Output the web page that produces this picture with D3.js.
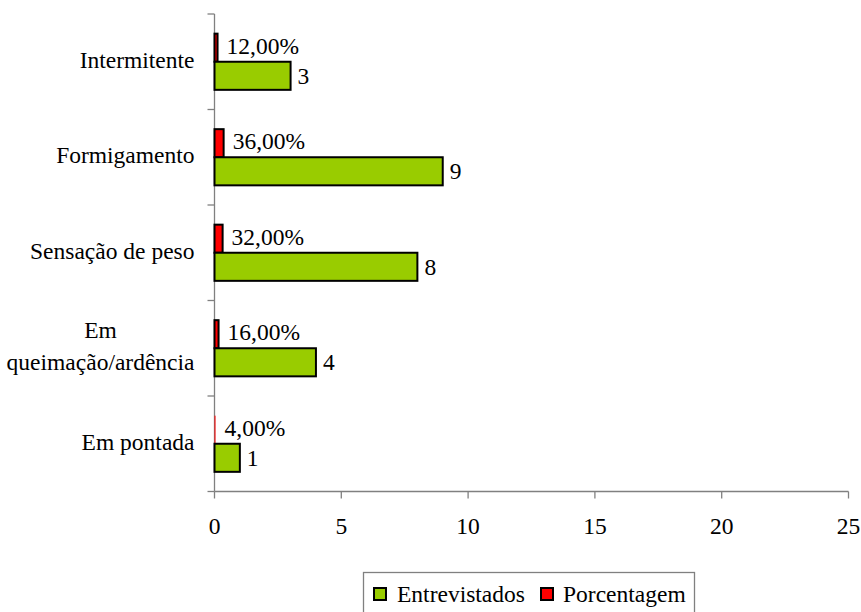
<!DOCTYPE html>
<html>
<head>
<meta charset="utf-8">
<script src="https://cdn.jsdelivr.net/npm/d3@7"></script>
<style>
  html, body { margin: 0; padding: 0; background: #fff; }
</style>
</head>
<body>
<svg id="chart" width="861" height="612" font-family="'Liberation Serif', 'DejaVu Serif', serif"></svg>
<script>
// Sintomas relatados (de cima para baixo)
const categories = ["Intermitente", "Formigamento", "Sensação de peso", "Em queimação/ardência", "Em pontada"];
const categoryLines = [["Intermitente"], ["Formigamento"], ["Sensação de peso"], ["Em", "queimação/ardência"], ["Em pontada"]];
const entrevistados = [3, 9, 8, 4, 1];
const porcentagem = [0.12, 0.36, 0.32, 0.16, 0.04];
const porcentagemLabels = ["12,00%", "36,00%", "32,00%", "16,00%", "4,00%"];
const xTicks = [0, 5, 10, 15, 20, 25];
const seriesNames = ["Entrevistados", "Porcentagem"];
const seriesColors = ["#99CC00", "#FF0000"];

const svg = d3.select("#chart");
const fontSize = 23.5;

const plot = { left: 214.5, right: 848.5, top: 14, bottom: 491.5 };

const x = d3.scaleLinear().domain([0, 25]).range([plot.left, plot.right]);
const y = d3.scaleBand().domain(categories).range([plot.top, plot.bottom]).padding(0);
// Two bars per category: Porcentagem above, Entrevistados below
const sub = d3.scaleBand().domain(["Porcentagem", "Entrevistados"])
  .range([0, y.bandwidth()]).paddingInner(0).paddingOuter(0.7);

const data = categories.map((c, i) => ({
  cat: c, lines: categoryLines[i], ent: entrevistados[i], pct: porcentagem[i], pctLabel: porcentagemLabels[i]
}));

// Axes
const axisColor = "#808080";
svg.append("line").attr("x1", plot.left).attr("x2", plot.left)
  .attr("y1", plot.top).attr("y2", plot.bottom).attr("stroke", axisColor).attr("stroke-width", 1.3);
svg.append("line").attr("x1", plot.left).attr("x2", plot.right)
  .attr("y1", plot.bottom).attr("y2", plot.bottom).attr("stroke", axisColor).attr("stroke-width", 1.3);

// Category boundary ticks on y axis
const bounds = categories.map(c => y(c)).concat([plot.bottom]);
svg.selectAll(".ytick").data(bounds).enter().append("line")
  .attr("x1", plot.left - 7).attr("x2", plot.left)
  .attr("y1", d => d).attr("y2", d => d)
  .attr("stroke", axisColor).attr("stroke-width", 1.3);

// x ticks and labels
svg.selectAll(".xtick").data(xTicks).enter().append("line")
  .attr("x1", d => x(d)).attr("x2", d => x(d))
  .attr("y1", plot.bottom).attr("y2", plot.bottom + 7)
  .attr("stroke", axisColor).attr("stroke-width", 1.3);
svg.selectAll(".xlabel").data(xTicks).enter().append("text")
  .attr("x", d => x(d)).attr("y", plot.bottom + 42)
  .attr("text-anchor", "middle").attr("font-size", fontSize)
  .text(d => d);

// Category labels
const catG = svg.selectAll(".cat").data(data).enter().append("text")
  .attr("text-anchor", "middle").attr("font-size", fontSize);
const lineH = 32;
catG.each(function (d) {
  const t = d3.select(this);
  const cy = y(d.cat) + y.bandwidth() / 2;
  const n = d.lines.length;
  // measure widest line so the block is right-aligned at a fixed x
  const tmp = svg.append("text").attr("font-size", fontSize);
  let w = 0;
  d.lines.forEach(l => { tmp.text(l); w = Math.max(w, tmp.node().getComputedTextLength()); });
  tmp.remove();
  const cx = plot.left - 20 - w / 2;
  d.lines.forEach((l, k) => {
    t.append("tspan").attr("x", cx)
      .attr("y", cy + (k - (n - 1) / 2) * lineH + 6)
      .text(l);
  });
});

// Bars (hairline-width bars get no outline)
const g = svg.append("g");
g.selectAll(".pct").data(data).enter().append("rect")
  .attr("x", x(0)).attr("y", d => y(d.cat) + sub("Porcentagem"))
  .attr("width", d => x(d.pct) - x(0)).attr("height", sub.bandwidth())
  .attr("fill", seriesColors[1])
  .attr("stroke", d => (x(d.pct) - x(0)) > 2 ? "#000" : "none").attr("stroke-width", 2);
g.selectAll(".ent").data(data).enter().append("rect")
  .attr("x", x(0)).attr("y", d => y(d.cat) + sub("Entrevistados"))
  .attr("width", d => x(d.ent) - x(0)).attr("height", sub.bandwidth())
  .attr("fill", seriesColors[0]).attr("stroke", "#000").attr("stroke-width", 2);

// Value labels
g.selectAll(".pctl").data(data).enter().append("text")
  .attr("x", d => x(d.pct) + 9).attr("y", d => y(d.cat) + sub("Porcentagem") + sub.bandwidth() / 2 + 6)
  .attr("font-size", fontSize).text(d => d.pctLabel);
g.selectAll(".entl").data(data).enter().append("text")
  .attr("x", d => x(d.ent) + 7).attr("y", d => y(d.cat) + sub("Entrevistados") + sub.bandwidth() / 2 + 8)
  .attr("font-size", fontSize).text(d => d.ent);

// Legend
const legend = svg.append("g");
legend.append("rect").attr("x", 363.5).attr("y", 572.5).attr("width", 331).attr("height", 45)
  .attr("fill", "#fff").attr("stroke", axisColor).attr("stroke-width", 1.3);
const legendItems = [
  { name: seriesNames[0], color: seriesColors[0], mx: 374, tx: 397 },
  { name: seriesNames[1], color: seriesColors[1], mx: 541, tx: 563 }
];
legendItems.forEach(it => {
  legend.append("rect").attr("x", it.mx).attr("y", 588).attr("width", 12).attr("height", 12)
    .attr("fill", it.color).attr("stroke", "#000").attr("stroke-width", 2);
  legend.append("text").attr("x", it.tx).attr("y", 602).attr("font-size", fontSize).text(it.name);
});
</script>
</body>
</html>
